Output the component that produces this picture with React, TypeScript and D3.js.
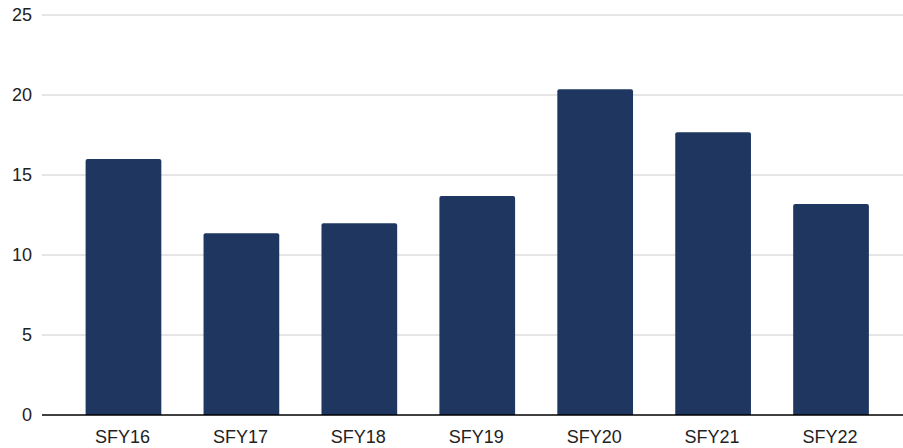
import React from "react";
import * as d3 from "d3";

const categories = ["SFY16", "SFY17", "SFY18", "SFY19", "SFY20", "SFY21", "SFY22"];
const values = [16.0, 11.36, 11.98, 13.69, 20.36, 17.67, 13.19];
const yTicks = [0, 5, 10, 15, 20, 25];

const W = 903;
const H = 448;

export default function App() {
  const x = d3
    .scaleBand<string>()
    .domain(categories)
    .range([64.5, 890])
    .paddingInner(0.358)
    .paddingOuter(0.179);
  const y = d3.scaleLinear().domain([0, 25]).range([415, 15]);
  const gridX0 = 42;
  const gridX1 = 903;
  const r = 2;

  const barPath = (cx: number, w: number, top: number, bottom: number) => {
    const x0 = cx;
    const x1 = cx + w;
    return `M${x0},${bottom}L${x0},${top + r}Q${x0},${top} ${x0 + r},${top}L${x1 - r},${top}Q${x1},${top} ${x1},${top + r}L${x1},${bottom}Z`;
  };

  return (
    <svg
      width={W}
      height={H}
      style={{ position: "absolute", left: 0, top: 0, background: "#fff" }}
      fontFamily="'Liberation Sans', Arial, sans-serif"
    >
      {yTicks.map((t) => (
        <g key={t}>
          {t !== 0 && (
            <line x1={gridX0} x2={gridX1} y1={y(t)} y2={y(t)} stroke="#cccccc" strokeWidth={1} />
          )}
          <text x={32} y={y(t)} dy="0.35em" textAnchor="end" fontSize={18} fill="#222">
            {t}
          </text>
        </g>
      ))}
      {categories.map((c, i) => (
        <path
          key={c}
          d={barPath(x(c)!, x.bandwidth(), y(values[i]), y(0))}
          fill="#1f3760"
        />
      ))}
      <line x1={gridX0} x2={gridX1} y1={y(0)} y2={y(0)} stroke="#000" strokeWidth={1.5} />
      {categories.map((c) => (
        <text
          key={c}
          x={x(c)! + x.bandwidth() / 2 - 1}
          y={442.5}
          textAnchor="middle"
          fontSize={18}
          fill="#222"
        >
          {c}
        </text>
      ))}
    </svg>
  );
}
